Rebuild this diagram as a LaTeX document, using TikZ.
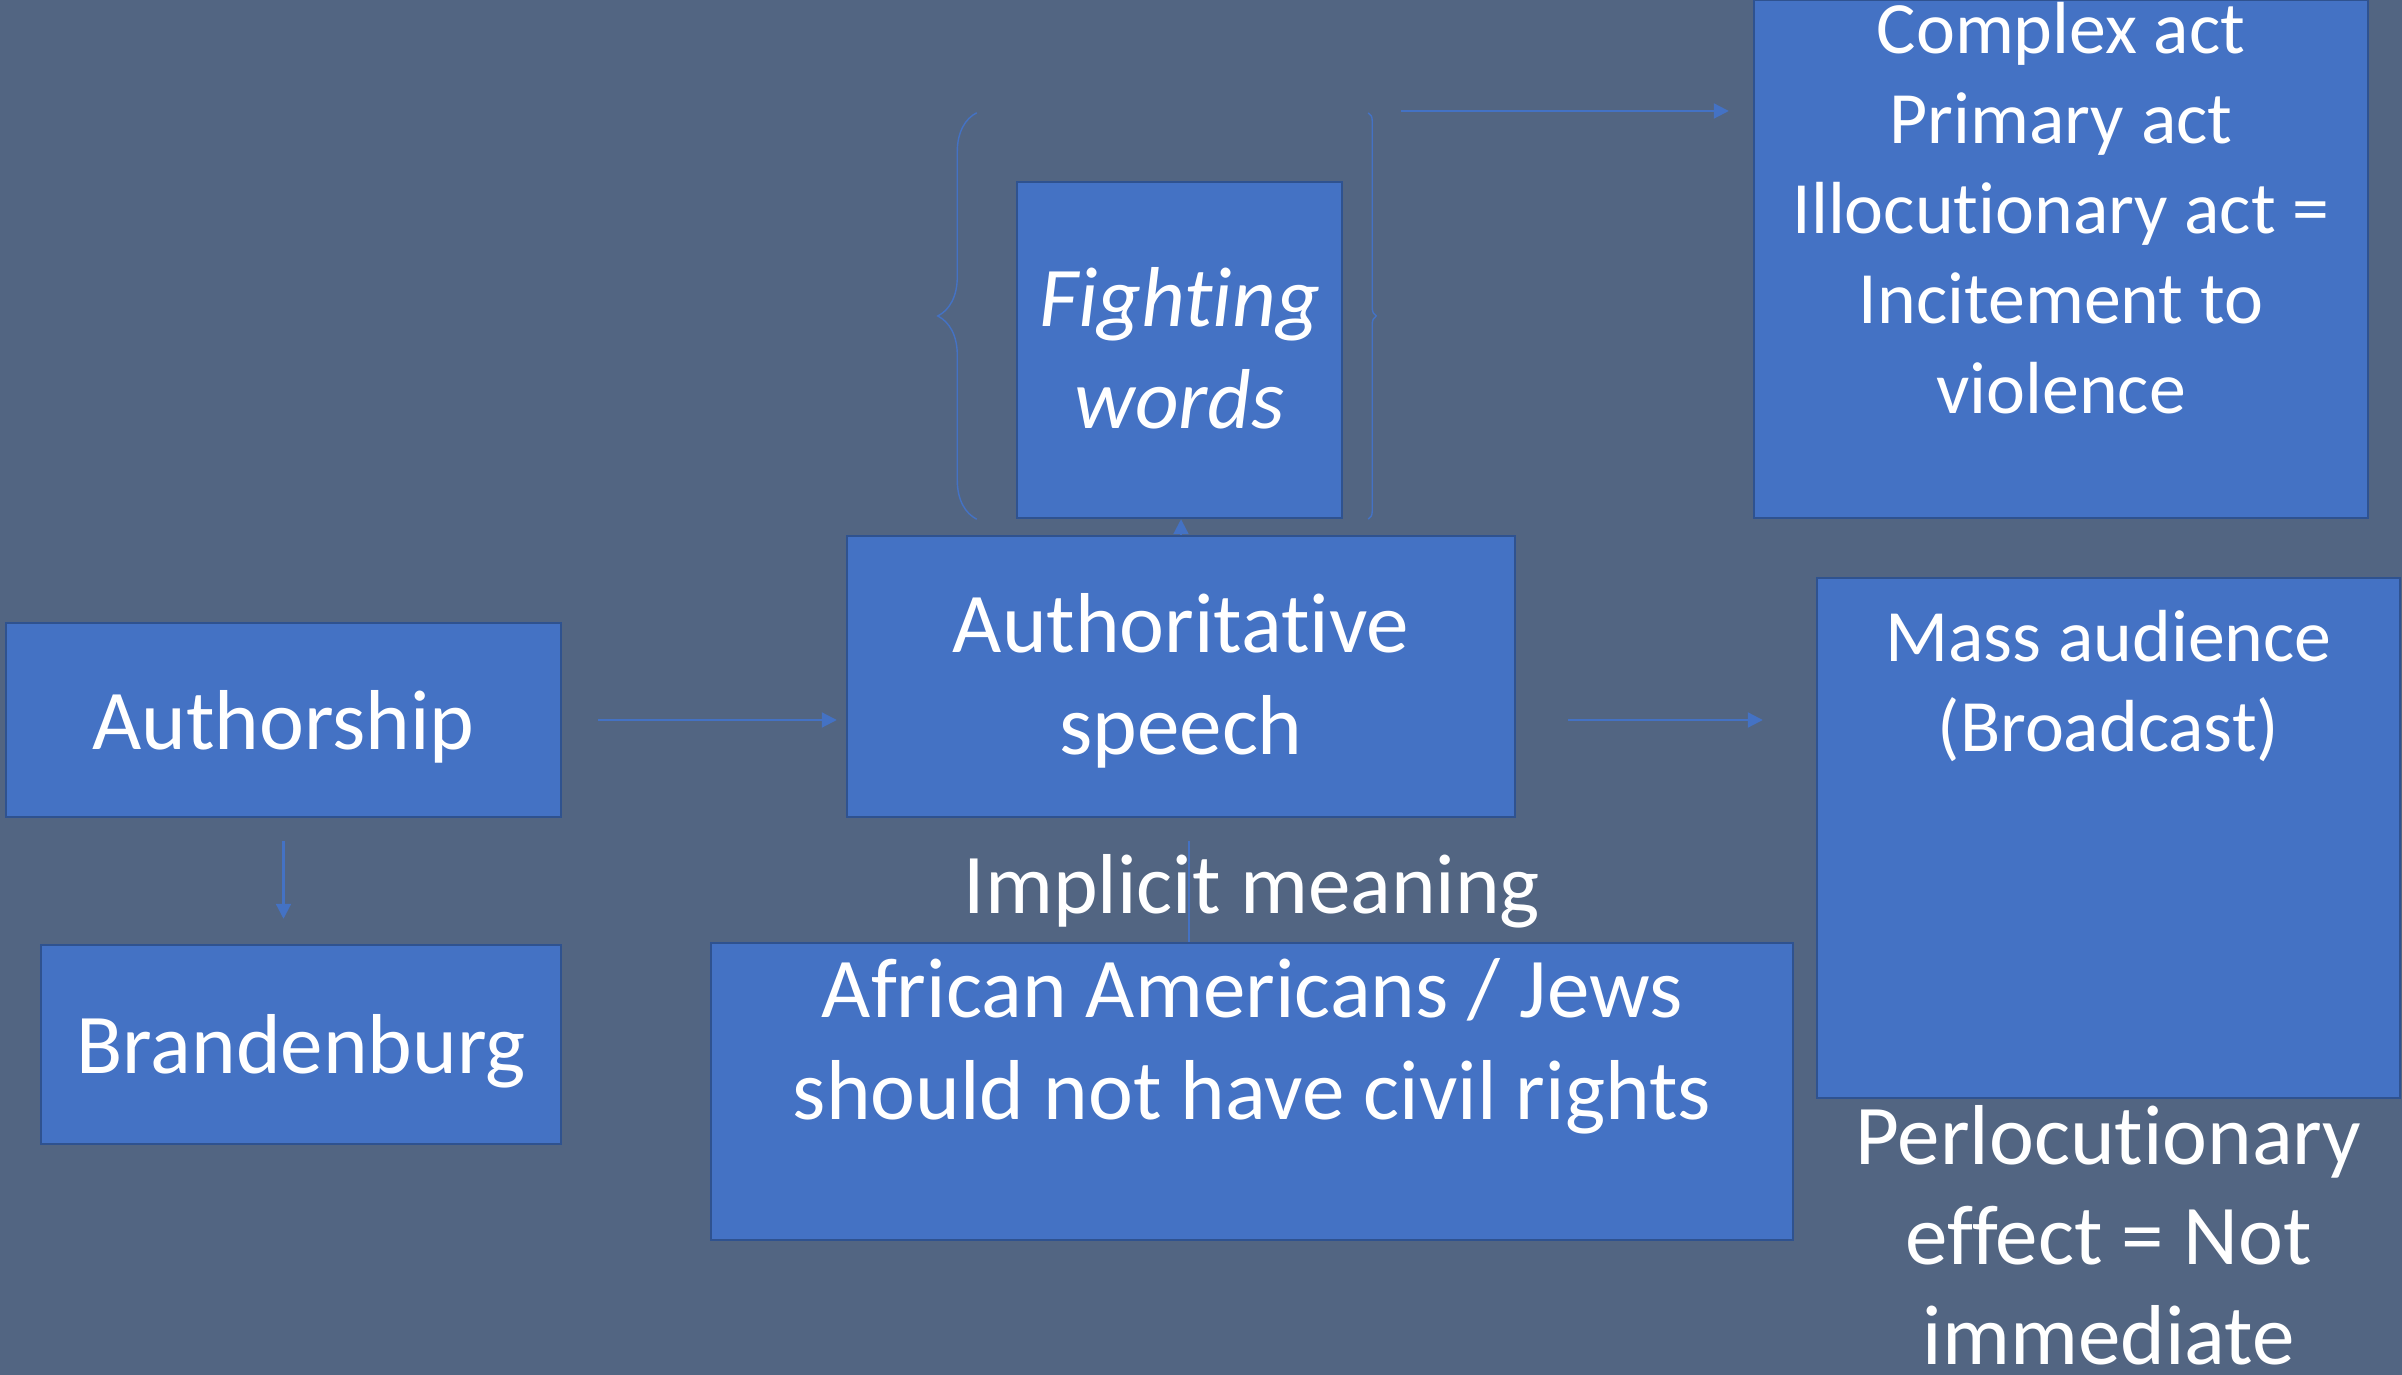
\documentclass[tikz,border=0pt]{standalone}
\usepackage{fontspec}
\setmainfont{Carlito}[Ligatures=NoCommon]
\usetikzlibrary{positioning,arrows.meta,decorations.pathreplacing,calc}
\definecolor{slide}{HTML}{526582}
\definecolor{boxfill}{HTML}{4472C4}
\definecolor{boxline}{HTML}{2F528F}

\begin{document}
\begin{tikzpicture}[
mybox/.style={
  draw=boxline,
  line width=0.7pt,
  fill=boxfill,
  rectangle,
  inner sep=0pt},
mytext/.style={
  text=white,
  align=center,
  anchor=base,
  inner sep=0pt,
  font=\fontsize{24.2}{29}\selectfont},
smalltext/.style={
  mytext,
  font=\fontsize{21}{25.6}\selectfont},
myarrow/.style={
  draw=boxfill,
  line width=0.6pt,
  -{Triangle[width=0.15cm,length=0.15cm]}},
thinline/.style={
  draw=boxfill,
  line width=0.4pt},
mybrace/.style={
  thinline,
  decorate}
]
\fill[slide] (0,0) rectangle (24.02,-13.75);
\useasboundingbox (0,0) rectangle (24.02,-13.75);
% boxes
\node[mybox, minimum width=5.55cm, minimum height=1.94cm] (auth) at (2.835,-7.20) {};
\node[mybox, minimum width=5.20cm, minimum height=1.99cm] (brand) at (3.01,-10.445) {};
\node[mybox, minimum width=6.68cm, minimum height=2.81cm] (spch) at (11.81,-6.765) {};
\node[mybox, minimum width=3.25cm, minimum height=3.36cm] (fight) at (11.795,-3.50) {};
\node[mybox, minimum width=6.14cm, minimum height=5.18cm] (cplx) at (20.61,-2.59) {};
\node[mybox, minimum width=5.83cm, minimum height=5.20cm] (mass) at (21.085,-8.38) {};
\node[mybox, minimum width=10.82cm, minimum height=2.97cm] (afr) at (12.52,-10.915) {};
% texts (base = last line)
\node[mytext] (authtxt) at ([yshift=-1.28cm]auth.north) {Authorship};
\node[mytext] (brandtxt) at ([yshift=-1.30cm]brand.north) {Brandenburg};
\node[mytext] (spchtxt) at ([yshift=-2.20cm]spch.north) {Authoritative\\speech};
\node[mytext, font=\fontsize{24.2}{29}\selectfont\itshape] (fighttxt)
  at ([yshift=-2.48cm]fight.north) {Fighting\\words};
\node[smalltext] (cplxtxt) at ([yshift=-4.15cm]cplx.north)
  {Complex act\\Primary act\\Illocutionary act =\\Incitement to\\violence};
\node[smalltext] (masstxt) at ([yshift=-1.75cm]mass.north) {Mass audience\\(Broadcast)};
\node[mytext, font=\fontsize{24.2}{28.4}\selectfont] (perltxt)
  at ([yshift=-2.65cm]mass.south) {Perlocutionary\\effect = Not\\immediate};
\node[mytext] (impltxt) at ([yshift=0.28cm]afr.north) {Implicit meaning};
\node[mytext] (afrtxt) at ([yshift=-1.78cm]afr.north)
  {African Americans / Jews\\should not have civil rights};
% connectors
\draw[myarrow, shorten <=0.36cm, shorten >=0.09cm] (auth.east) -- (auth.east -| spch.west);
\draw[myarrow, shorten <=0.52cm, shorten >=0.53cm] (spch.east |- auth.east) -- (mass.west |- auth.east);
\draw[myarrow, shorten <=0.23cm, shorten >=0.25cm] (auth.south) -- (auth.south |- brand.north);
\draw[myarrow] (spch.north) -- (spch.north |- fight.south);
\coordinate (topstart) at (14.01,-1.11);
\draw[myarrow, shorten >=0.24cm] (topstart) -- (topstart -| cplx.west);
\draw[thinline, shorten <=0.23cm] ([xshift=0.08cm]spch.south) -- ([xshift=0.08cm]spch.south |- afr.north);
% braces
\draw[mybrace, decoration={brace, amplitude=0.39cm}]
  ([xshift=-0.39cm]fight.south west) -- ([shift={(-0.39,0.68)}]fight.north west);
\draw[mybrace, decoration={brace, amplitude=0.08cm}]
  ([shift={(0.25,0.68)}]fight.north east) -- ([xshift=0.25cm]fight.south east);
\end{tikzpicture}
\end{document}
